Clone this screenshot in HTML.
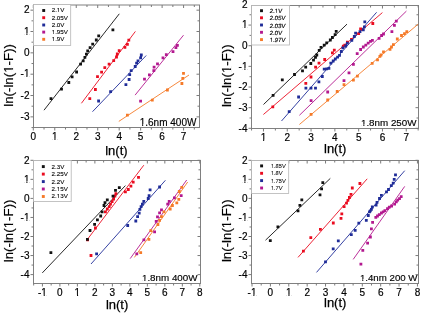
<!DOCTYPE html><html><head><meta charset="utf-8"><style>html,body{margin:0;padding:0;background:#fff;width:421px;height:314px;overflow:hidden}svg{display:block}.w{will-change:transform}</style></head><body>
<div class="w"><svg width="421" height="314" viewBox="0 0 421 314" font-family='"Liberation Sans", sans-serif'>
<rect width="421" height="314" fill="#fff"/>
<defs><clipPath id="ct0" clipPathUnits="userSpaceOnUse"><path clip-rule="evenodd" d="M-2000 -2000H3000V3000H-2000ZM52.28 138.85H54.41V140.90H52.28ZM55.48 138.85H57.51V140.90H55.48Z"/></clipPath><clipPath id="ct1" clipPathUnits="userSpaceOnUse"><path clip-rule="evenodd" d="M-2000 -2000H3000V3000H-2000ZM24.21 75.94H26.34V77.99H24.21ZM27.42 75.94H29.44V77.99H27.42Z"/></clipPath><clipPath id="ct2" clipPathUnits="userSpaceOnUse"><path clip-rule="evenodd" d="M-2000 -2000H3000V3000H-2000ZM24.23 33.26H26.35V35.31H24.23ZM27.43 33.26H29.46V35.31H27.43Z"/></clipPath><clipPath id="ct3" clipPathUnits="userSpaceOnUse"><path clip-rule="evenodd" d="M-2000 -2000H3000V3000H-2000ZM57.04 10.95H58.35V13.00H57.04ZM59.02 10.95H60.28V13.00H59.02Z"/></clipPath><clipPath id="ct4" clipPathUnits="userSpaceOnUse"><path clip-rule="evenodd" d="M-2000 -2000H3000V3000H-2000ZM51.88 32.55H53.20V34.60H51.88ZM53.87 32.55H55.12V34.60H53.87Z"/></clipPath><clipPath id="ct5" clipPathUnits="userSpaceOnUse"><path clip-rule="evenodd" d="M-2000 -2000H3000V3000H-2000ZM51.88 39.75H53.20V41.80H51.88ZM53.87 39.75H55.12V41.80H53.87Z"/></clipPath><clipPath id="ct6" clipPathUnits="userSpaceOnUse"><path clip-rule="evenodd" d="M-2000 -2000H3000V3000H-2000ZM11.36 78.65H14.18V80.70H11.36ZM15.62 78.65H18.31V80.70H15.62Z"/></clipPath><clipPath id="ct7" clipPathUnits="userSpaceOnUse"><path clip-rule="evenodd" d="M-2000 -2000H3000V3000H-2000ZM139.99 124.35H142.11V126.40H139.99ZM143.19 124.35H145.21V126.40H143.19Z"/></clipPath><clipPath id="ct8" clipPathUnits="userSpaceOnUse"><path clip-rule="evenodd" d="M-2000 -2000H3000V3000H-2000ZM260.97 139.85H263.10V141.90H260.97ZM264.17 139.85H266.20V141.90H264.17Z"/></clipPath><clipPath id="ct9" clipPathUnits="userSpaceOnUse"><path clip-rule="evenodd" d="M-2000 -2000H3000V3000H-2000ZM242.21 68.12H244.34V70.17H242.21ZM245.42 68.12H247.44V70.17H245.42Z"/></clipPath><clipPath id="ct10" clipPathUnits="userSpaceOnUse"><path clip-rule="evenodd" d="M-2000 -2000H3000V3000H-2000ZM242.23 26.82H244.35V28.87H242.23ZM245.43 26.82H247.46V28.87H245.43Z"/></clipPath><clipPath id="ct11" clipPathUnits="userSpaceOnUse"><path clip-rule="evenodd" d="M-2000 -2000H3000V3000H-2000ZM5.16 -1.45H6.44V0.60H5.16ZM7.08 -1.45H8.30V0.60H7.08Z"/></clipPath><clipPath id="ct12" clipPathUnits="userSpaceOnUse"><path clip-rule="evenodd" d="M-2000 -2000H3000V3000H-2000ZM0.18 -1.45H1.45V0.60H0.18ZM2.10 -1.45H3.31V0.60H2.10Z"/></clipPath><clipPath id="ct13" clipPathUnits="userSpaceOnUse"><path clip-rule="evenodd" d="M-2000 -2000H3000V3000H-2000ZM228.96 78.95H231.78V81.00H228.96ZM233.22 78.95H235.91V81.00H233.22Z"/></clipPath><clipPath id="ct14" clipPathUnits="userSpaceOnUse"><path clip-rule="evenodd" d="M-2000 -2000H3000V3000H-2000ZM361.24 124.15H363.32V126.20H361.24ZM364.38 124.15H366.36V126.20H364.38Z"/></clipPath><clipPath id="ct15" clipPathUnits="userSpaceOnUse"><path clip-rule="evenodd" d="M-2000 -2000H3000V3000H-2000ZM41.58 294.85H43.70V296.90H41.58ZM44.78 294.85H46.80V296.90H44.78Z"/></clipPath><clipPath id="ct16" clipPathUnits="userSpaceOnUse"><path clip-rule="evenodd" d="M-2000 -2000H3000V3000H-2000ZM74.90 294.85H77.03V296.90H74.90ZM78.10 294.85H80.13V296.90H78.10Z"/></clipPath><clipPath id="ct17" clipPathUnits="userSpaceOnUse"><path clip-rule="evenodd" d="M-2000 -2000H3000V3000H-2000ZM24.21 219.20H26.34V221.25H24.21ZM27.42 219.20H29.44V221.25H27.42Z"/></clipPath><clipPath id="ct18" clipPathUnits="userSpaceOnUse"><path clip-rule="evenodd" d="M-2000 -2000H3000V3000H-2000ZM24.23 181.10H26.35V183.15H24.23ZM27.43 181.10H29.46V183.15H27.43Z"/></clipPath><clipPath id="ct19" clipPathUnits="userSpaceOnUse"><path clip-rule="evenodd" d="M-2000 -2000H3000V3000H-2000ZM56.94 189.45H58.25V191.50H56.94ZM58.92 189.45H60.18V191.50H58.92Z"/></clipPath><clipPath id="ct20" clipPathUnits="userSpaceOnUse"><path clip-rule="evenodd" d="M-2000 -2000H3000V3000H-2000ZM56.94 196.95H58.25V199.00H56.94ZM58.92 196.95H60.18V199.00H58.92Z"/></clipPath><clipPath id="ct21" clipPathUnits="userSpaceOnUse"><path clip-rule="evenodd" d="M-2000 -2000H3000V3000H-2000ZM11.16 234.15H13.98V236.20H11.16ZM15.42 234.15H18.11V236.20H15.42Z"/></clipPath><clipPath id="ct22" clipPathUnits="userSpaceOnUse"><path clip-rule="evenodd" d="M-2000 -2000H3000V3000H-2000ZM142.24 279.75H144.32V281.80H142.24ZM145.38 279.75H147.36V281.80H145.38Z"/></clipPath><clipPath id="ct23" clipPathUnits="userSpaceOnUse"><path clip-rule="evenodd" d="M-2000 -2000H3000V3000H-2000ZM251.19 294.85H253.31V296.90H251.19ZM254.39 294.85H256.41V296.90H254.39Z"/></clipPath><clipPath id="ct24" clipPathUnits="userSpaceOnUse"><path clip-rule="evenodd" d="M-2000 -2000H3000V3000H-2000ZM286.29 294.85H288.42V296.90H286.29ZM289.49 294.85H291.52V296.90H289.49Z"/></clipPath><clipPath id="ct25" clipPathUnits="userSpaceOnUse"><path clip-rule="evenodd" d="M-2000 -2000H3000V3000H-2000ZM242.21 219.20H244.34V221.25H242.21ZM245.42 219.20H247.44V221.25H245.42Z"/></clipPath><clipPath id="ct26" clipPathUnits="userSpaceOnUse"><path clip-rule="evenodd" d="M-2000 -2000H3000V3000H-2000ZM242.23 181.10H244.35V183.15H242.23ZM245.43 181.10H247.46V183.15H245.43Z"/></clipPath><clipPath id="ct27" clipPathUnits="userSpaceOnUse"><path clip-rule="evenodd" d="M-2000 -2000H3000V3000H-2000ZM0.17 -1.45H1.40V0.60H0.17ZM2.03 -1.45H3.20V0.60H2.03Z"/></clipPath><clipPath id="ct28" clipPathUnits="userSpaceOnUse"><path clip-rule="evenodd" d="M-2000 -2000H3000V3000H-2000ZM0.17 -1.45H1.40V0.60H0.17ZM2.03 -1.45H3.20V0.60H2.03Z"/></clipPath><clipPath id="ct29" clipPathUnits="userSpaceOnUse"><path clip-rule="evenodd" d="M-2000 -2000H3000V3000H-2000ZM0.17 -1.45H1.40V0.60H0.17ZM2.03 -1.45H3.20V0.60H2.03Z"/></clipPath><clipPath id="ct30" clipPathUnits="userSpaceOnUse"><path clip-rule="evenodd" d="M-2000 -2000H3000V3000H-2000ZM0.17 -1.45H1.40V0.60H0.17ZM2.03 -1.45H3.20V0.60H2.03Z"/></clipPath><clipPath id="ct31" clipPathUnits="userSpaceOnUse"><path clip-rule="evenodd" d="M-2000 -2000H3000V3000H-2000ZM229.76 233.95H232.58V236.00H229.76ZM234.02 233.95H236.71V236.00H234.02Z"/></clipPath><clipPath id="ct32" clipPathUnits="userSpaceOnUse"><path clip-rule="evenodd" d="M-2000 -2000H3000V3000H-2000ZM360.16 279.05H362.22V281.10H360.16ZM363.27 279.05H365.23V281.10H363.27Z"/></clipPath></defs>
<g><rect x="33.5" y="5" width="166" height="122.5" fill="none" stroke="#808080" stroke-width="1"/><path d="M33.3 127.5v3M33.3 5v3M44.03 127.5v2M44.03 5v2M54.77 127.5v3M54.77 5v3M65.5 127.5v2M65.5 5v2M76.24 127.5v3M76.24 5v3M86.97 127.5v2M86.97 5v2M97.71 127.5v3M97.71 5v3M108.44 127.5v2M108.44 5v2M119.18 127.5v3M119.18 5v3M129.91 127.5v2M129.91 5v2M140.65 127.5v3M140.65 5v3M151.38 127.5v2M151.38 5v2M162.12 127.5v3M162.12 5v3M172.86 127.5v2M172.86 5v2M183.59 127.5v3M183.59 5v3M194.32 127.5v2M194.32 5v2M33.5 127.54h-2M199.5 127.54h-2M33.5 116.87h-3M199.5 116.87h-3M33.5 106.2h-2M199.5 106.2h-2M33.5 95.53h-3M199.5 95.53h-3M33.5 84.86h-2M199.5 84.86h-2M33.5 74.19h-3M199.5 74.19h-3M33.5 63.52h-2M199.5 63.52h-2M33.5 52.85h-3M199.5 52.85h-3M33.5 42.18h-2M199.5 42.18h-2M33.5 31.51h-3M199.5 31.51h-3M33.5 20.84h-2M199.5 20.84h-2M33.5 10.17h-3M199.5 10.17h-3" stroke="#7a7a7a" stroke-width="1" fill="none"/><text x="33.3" y="140.3" font-size="10" text-anchor="middle" fill="#000" stroke="#000" stroke-width="0.18">0</text><text id="t0" x="54.77" y="140.3" font-size="10" text-anchor="middle" fill="#000" stroke="#000" stroke-width="0.18" clip-path="url(#ct0)">1</text><text x="76.24" y="140.3" font-size="10" text-anchor="middle" fill="#000" stroke="#000" stroke-width="0.18">2</text><text x="97.71" y="140.3" font-size="10" text-anchor="middle" fill="#000" stroke="#000" stroke-width="0.18">3</text><text x="119.18" y="140.3" font-size="10" text-anchor="middle" fill="#000" stroke="#000" stroke-width="0.18">4</text><text x="140.65" y="140.3" font-size="10" text-anchor="middle" fill="#000" stroke="#000" stroke-width="0.18">5</text><text x="162.12" y="140.3" font-size="10" text-anchor="middle" fill="#000" stroke="#000" stroke-width="0.18">6</text><text x="183.59" y="140.3" font-size="10" text-anchor="middle" fill="#000" stroke="#000" stroke-width="0.18">7</text><text x="29.5" y="120.07" font-size="10" text-anchor="end" fill="#000" stroke="#000" stroke-width="0.18">-3</text><text x="29.5" y="98.73" font-size="10" text-anchor="end" fill="#000" stroke="#000" stroke-width="0.18">-2</text><text id="t1" x="29.5" y="77.39" font-size="10" text-anchor="end" fill="#000" stroke="#000" stroke-width="0.18" clip-path="url(#ct1)">-1</text><text x="29.5" y="56.05" font-size="10" text-anchor="end" fill="#000" stroke="#000" stroke-width="0.18">0</text><text id="t2" x="29.5" y="34.71" font-size="10" text-anchor="end" fill="#000" stroke="#000" stroke-width="0.18" clip-path="url(#ct2)">1</text><text x="29.5" y="13.37" font-size="10" text-anchor="end" fill="#000" stroke="#000" stroke-width="0.18">2</text><line x1="44" y1="110.2" x2="119.3" y2="13.8" stroke="#111111" stroke-width="0.9"/><line x1="81.4" y1="103.3" x2="135.4" y2="31.4" stroke="#ea0c20" stroke-width="0.9"/><line x1="92.5" y1="111.7" x2="146.2" y2="55.5" stroke="#1f2c98" stroke-width="0.9"/><line x1="135.1" y1="95.1" x2="183.5" y2="35.2" stroke="#b3188f" stroke-width="0.9"/><line x1="118.8" y1="121.4" x2="189" y2="75" stroke="#f57a28" stroke-width="0.9"/><path d="M49.6 97.3h2.8v2.8h-2.8zM60.1 87.8h2.8v2.8h-2.8zM67.4 81.1h2.8v2.8h-2.8zM70.7 75.4h2.8v2.8h-2.8zM75.2 70.6h2.8v2.8h-2.8zM79.2 62.8h2.8v2.8h-2.8zM81.8 59.4h2.8v2.8h-2.8zM83.5 55.9h2.8v2.8h-2.8zM85 52.7h2.8v2.8h-2.8zM86.3 49.4h2.8v2.8h-2.8zM88.7 46.3h2.8v2.8h-2.8zM91.3 42.7h2.8v2.8h-2.8zM94.9 38.6h2.8v2.8h-2.8zM97.3 34.4h2.8v2.8h-2.8zM111.5 28.4h2.8v2.8h-2.8z" fill="#111111"/><path d="M88.4 97.3h2.8v2.8h-2.8zM94 88.1h2.8v2.8h-2.8zM96.1 75.3h2.8v2.8h-2.8zM100.2 70.7h2.8v2.8h-2.8zM103.4 66.2h2.8v2.8h-2.8zM107.7 62.8h2.8v2.8h-2.8zM112.3 59.3h2.8v2.8h-2.8zM115.1 55.6h2.8v2.8h-2.8zM115.9 52.6h2.8v2.8h-2.8zM117.8 49.3h2.8v2.8h-2.8zM123.5 45.9h2.8v2.8h-2.8zM126 43h2.8v2.8h-2.8zM127.4 38.8h2.8v2.8h-2.8z" fill="#ea0c20"/><path d="M97.2 99.6h2.8v2.8h-2.8zM109.2 90.3h2.8v2.8h-2.8zM124.5 83.2h2.8v2.8h-2.8zM127.7 78.1h2.8v2.8h-2.8zM128.3 73.3h2.8v2.8h-2.8zM129.8 69.3h2.8v2.8h-2.8zM133.8 65.1h2.8v2.8h-2.8zM135.2 61.8h2.8v2.8h-2.8zM136.6 59.4h2.8v2.8h-2.8zM139.2 56.4h2.8v2.8h-2.8zM139.9 53.6h2.8v2.8h-2.8z" fill="#1f2c98"/><path d="M139.2 99.7h2.8v2.8h-2.8zM143.1 77.7h2.8v2.8h-2.8zM148 73.5h2.8v2.8h-2.8zM152.4 69.2h2.8v2.8h-2.8zM152.7 65.7h2.8v2.8h-2.8zM156.1 62.5h2.8v2.8h-2.8zM161.6 56.4h2.8v2.8h-2.8zM164.9 53.2h2.8v2.8h-2.8zM171.6 50.3h2.8v2.8h-2.8zM174.5 46.3h2.8v2.8h-2.8zM176 44h2.8v2.8h-2.8z" fill="#b3188f"/><path d="M126 113.7h2.8v2.8h-2.8zM150.9 98.8h2.8v2.8h-2.8zM166 88.6h2.8v2.8h-2.8zM180.5 82.1h2.8v2.8h-2.8zM181.4 77h2.8v2.8h-2.8zM182.1 71.9h2.8v2.8h-2.8z" fill="#f57a28"/><rect x="33.5" y="4.5" width="37.2" height="41" fill="#fff" stroke="#b5b5b5" stroke-width="0.8"/><rect x="42.25" y="9.05" width="2.9" height="2.9" fill="#111111"/><text id="t3" x="51.7" y="12.4" font-size="6.2" fill="#000" stroke="#000" stroke-width="0.1" clip-path="url(#ct3)">2.1V</text><rect x="42.25" y="16.25" width="2.9" height="2.9" fill="#ea0c20"/><text x="51.7" y="19.6" font-size="6.2" fill="#000" stroke="#000" stroke-width="0.1">2.05V</text><rect x="42.25" y="23.55" width="2.9" height="2.9" fill="#1f2c98"/><text x="51.7" y="26.9" font-size="6.2" fill="#000" stroke="#000" stroke-width="0.1">2.0V</text><rect x="42.25" y="30.65" width="2.9" height="2.9" fill="#b3188f"/><text id="t4" x="51.7" y="34" font-size="6.2" fill="#000" stroke="#000" stroke-width="0.1" clip-path="url(#ct4)">1.95V</text><rect x="42.25" y="37.85" width="2.9" height="2.9" fill="#f57a28"/><text id="t5" x="51.7" y="41.2" font-size="6.2" fill="#000" stroke="#000" stroke-width="0.1" clip-path="url(#ct5)">1.9V</text><text id="t6" x="8.4" y="80.1" font-size="13.3" text-anchor="middle" fill="#000" stroke="#000" stroke-width="0.15" transform="rotate(-90 8.4 75.4)" clip-path="url(#ct6)">ln(-ln(1-F))</text><text x="116.4" y="154.7" font-size="13" text-anchor="middle" fill="#000" stroke="#000" stroke-width="0.25">ln(t)</text><text id="t7" x="196.4" y="125.8" font-size="10" text-anchor="end" fill="#000" stroke="#000" stroke-width="0.15" clip-path="url(#ct7)">1.6nm 400W</text></g>
<g><rect x="251.5" y="5.5" width="167" height="123" fill="none" stroke="#808080" stroke-width="1"/><path d="M251.56 128.5v2M251.56 5.5v2M263.46 128.5v3M263.46 5.5v3M275.36 128.5v2M275.36 5.5v2M287.26 128.5v3M287.26 5.5v3M299.16 128.5v2M299.16 5.5v2M311.06 128.5v3M311.06 5.5v3M322.96 128.5v2M322.96 5.5v2M334.86 128.5v3M334.86 5.5v3M346.76 128.5v2M346.76 5.5v2M358.66 128.5v3M358.66 5.5v3M370.56 128.5v2M370.56 5.5v2M382.46 128.5v3M382.46 5.5v3M394.36 128.5v2M394.36 5.5v2M406.26 128.5v3M406.26 5.5v3M418.16 128.5v2M418.16 5.5v2M251.5 128.32h-3M418.5 128.32h-3M251.5 117.99h-2M418.5 117.99h-2M251.5 107.67h-3M418.5 107.67h-3M251.5 97.34h-2M418.5 97.34h-2M251.5 87.02h-3M418.5 87.02h-3M251.5 76.69h-2M418.5 76.69h-2M251.5 66.37h-3M418.5 66.37h-3M251.5 56.05h-2M418.5 56.05h-2M251.5 45.72h-3M418.5 45.72h-3M251.5 35.39h-2M418.5 35.39h-2M251.5 25.07h-3M418.5 25.07h-3M251.5 14.75h-2M418.5 14.75h-2" stroke="#7a7a7a" stroke-width="1" fill="none"/><text id="t8" x="263.46" y="141.3" font-size="10" text-anchor="middle" fill="#000" stroke="#000" stroke-width="0.18" clip-path="url(#ct8)">1</text><text x="287.26" y="141.3" font-size="10" text-anchor="middle" fill="#000" stroke="#000" stroke-width="0.18">2</text><text x="311.06" y="141.3" font-size="10" text-anchor="middle" fill="#000" stroke="#000" stroke-width="0.18">3</text><text x="334.86" y="141.3" font-size="10" text-anchor="middle" fill="#000" stroke="#000" stroke-width="0.18">4</text><text x="358.66" y="141.3" font-size="10" text-anchor="middle" fill="#000" stroke="#000" stroke-width="0.18">5</text><text x="382.46" y="141.3" font-size="10" text-anchor="middle" fill="#000" stroke="#000" stroke-width="0.18">6</text><text x="406.26" y="141.3" font-size="10" text-anchor="middle" fill="#000" stroke="#000" stroke-width="0.18">7</text><text x="247.5" y="131.52" font-size="10" text-anchor="end" fill="#000" stroke="#000" stroke-width="0.18">-4</text><text x="247.5" y="110.87" font-size="10" text-anchor="end" fill="#000" stroke="#000" stroke-width="0.18">-3</text><text x="247.5" y="90.22" font-size="10" text-anchor="end" fill="#000" stroke="#000" stroke-width="0.18">-2</text><text id="t9" x="247.5" y="69.57" font-size="10" text-anchor="end" fill="#000" stroke="#000" stroke-width="0.18" clip-path="url(#ct9)">-1</text><text x="247.5" y="48.92" font-size="10" text-anchor="end" fill="#000" stroke="#000" stroke-width="0.18">0</text><text id="t10" x="247.5" y="28.27" font-size="10" text-anchor="end" fill="#000" stroke="#000" stroke-width="0.18" clip-path="url(#ct10)">1</text><text x="247.5" y="7.62" font-size="10" text-anchor="end" fill="#000" stroke="#000" stroke-width="0.18">2</text><line x1="263.5" y1="104.5" x2="347" y2="24.1" stroke="#111111" stroke-width="0.9"/><line x1="263.4" y1="114.5" x2="382.4" y2="12.6" stroke="#ea0c20" stroke-width="0.9"/><line x1="281.5" y1="121" x2="376.6" y2="12.3" stroke="#1f2c98" stroke-width="0.9"/><line x1="299.4" y1="115.3" x2="406.4" y2="11.1" stroke="#b3188f" stroke-width="0.9"/><line x1="299.4" y1="124.5" x2="418.2" y2="24.1" stroke="#f57a28" stroke-width="0.9"/><path d="M271.7 94h2.8v2.8h-2.8zM280.9 78.4h2.8v2.8h-2.8zM293.1 73.1h2.8v2.8h-2.8zM301.1 69.4h2.8v2.8h-2.8zM304.3 65.8h2.8v2.8h-2.8zM309.4 62.1h2.8v2.8h-2.8zM312.1 58.8h2.8v2.8h-2.8zM314.1 56h2.8v2.8h-2.8zM315.4 53.6h2.8v2.8h-2.8zM317.8 49h2.8v2.8h-2.8zM319.6 46h2.8v2.8h-2.8zM322.8 43.8h2.8v2.8h-2.8zM325.3 41.5h2.8v2.8h-2.8zM328.9 38.6h2.8v2.8h-2.8zM331 36.1h2.8v2.8h-2.8zM333.7 33.2h2.8v2.8h-2.8zM334.8 30h2.8v2.8h-2.8z" fill="#111111"/><path d="M271.4 105.5h2.8v2.8h-2.8zM304.4 82h2.8v2.8h-2.8zM309.6 75.6h2.8v2.8h-2.8zM314.2 65.8h2.8v2.8h-2.8zM317.6 61.8h2.8v2.8h-2.8zM323.3 58.1h2.8v2.8h-2.8zM331 51.4h2.8v2.8h-2.8zM332.9 48.7h2.8v2.8h-2.8zM341.9 44.7h2.8v2.8h-2.8zM343.4 43.7h2.8v2.8h-2.8zM346 40.8h2.8v2.8h-2.8zM350.1 38h2.8v2.8h-2.8zM357.3 32.2h2.8v2.8h-2.8zM359.2 27.5h2.8v2.8h-2.8zM371.4 22.1h2.8v2.8h-2.8z" fill="#ea0c20"/><path d="M287.8 110.2h2.8v2.8h-2.8zM297.2 95.6h2.8v2.8h-2.8zM304.5 86.7h2.8v2.8h-2.8zM309.6 86.7h2.8v2.8h-2.8zM314.1 86.7h2.8v2.8h-2.8zM317.5 80.4h2.8v2.8h-2.8zM320.9 75.1h2.8v2.8h-2.8zM322.8 67.7h2.8v2.8h-2.8zM325.3 67.4h2.8v2.8h-2.8zM327.5 67h2.8v2.8h-2.8zM329.4 61.8h2.8v2.8h-2.8zM331.8 59.6h2.8v2.8h-2.8zM333.9 57.6h2.8v2.8h-2.8zM336.2 55.8h2.8v2.8h-2.8zM338.1 54h2.8v2.8h-2.8zM339.9 50.1h2.8v2.8h-2.8zM341.4 46.5h2.8v2.8h-2.8zM344.3 44.6h2.8v2.8h-2.8zM345.9 41.8h2.8v2.8h-2.8zM350.4 38.9h2.8v2.8h-2.8zM352.9 35.1h2.8v2.8h-2.8zM354.2 31.8h2.8v2.8h-2.8zM358.6 30.3h2.8v2.8h-2.8zM361.9 28.4h2.8v2.8h-2.8zM363 25.5h2.8v2.8h-2.8zM363.4 20.4h2.8v2.8h-2.8z" fill="#1f2c98"/><path d="M309.7 99.2h2.8v2.8h-2.8zM326.3 90.6h2.8v2.8h-2.8zM342.6 79.2h2.8v2.8h-2.8zM347.6 71.4h2.8v2.8h-2.8zM352 62.9h2.8v2.8h-2.8zM355.8 52.3h2.8v2.8h-2.8zM359.2 48.1h2.8v2.8h-2.8zM361.9 45.6h2.8v2.8h-2.8zM364.4 43.7h2.8v2.8h-2.8zM366.8 41.8h2.8v2.8h-2.8zM369.1 39.9h2.8v2.8h-2.8zM371 38.9h2.8v2.8h-2.8zM377.7 37h2.8v2.8h-2.8zM380.2 34.1h2.8v2.8h-2.8zM382.1 32.6h2.8v2.8h-2.8zM390.5 30.3h2.8v2.8h-2.8zM393 24h2.8v2.8h-2.8zM394.9 19.8h2.8v2.8h-2.8z" fill="#b3188f"/><path d="M309.7 113h2.8v2.8h-2.8zM326.3 98.6h2.8v2.8h-2.8zM335.8 90.1h2.8v2.8h-2.8zM342.6 83.2h2.8v2.8h-2.8zM352 78.8h2.8v2.8h-2.8zM356 74.8h2.8v2.8h-2.8zM370.8 61.9h2.8v2.8h-2.8zM376.1 58.5h2.8v2.8h-2.8zM378.5 54.9h2.8v2.8h-2.8zM379.6 53.6h2.8v2.8h-2.8zM382.1 50.4h2.8v2.8h-2.8zM388.6 47.9h2.8v2.8h-2.8zM390.1 45.6h2.8v2.8h-2.8zM392 43.3h2.8v2.8h-2.8zM395.9 37.6h2.8v2.8h-2.8zM400.1 34.1h2.8v2.8h-2.8zM403.1 32.2h2.8v2.8h-2.8zM405.4 30.3h2.8v2.8h-2.8z" fill="#f57a28"/><rect x="251.5" y="5.5" width="38" height="39.5" fill="#fff" stroke="#b5b5b5" stroke-width="0.8"/><rect x="260.05" y="9.25" width="2.9" height="2.9" fill="#111111"/><text id="t11" transform="translate(269.6 13.2) skewX(-6)" font-size="6" fill="#000" stroke="#000" stroke-width="0.14" clip-path="url(#ct11)">2.1V</text><rect x="260.05" y="16.35" width="2.9" height="2.9" fill="#ea0c20"/><text transform="translate(269.6 20.3) skewX(-6)" font-size="6" fill="#000" stroke="#000" stroke-width="0.14">2.05V</text><rect x="260.05" y="23.55" width="2.9" height="2.9" fill="#1f2c98"/><text transform="translate(269.6 27.5) skewX(-6)" font-size="6" fill="#000" stroke="#000" stroke-width="0.14">2.03V</text><rect x="260.05" y="30.85" width="2.9" height="2.9" fill="#b3188f"/><text transform="translate(269.6 34.8) skewX(-6)" font-size="6" fill="#000" stroke="#000" stroke-width="0.14">2.0V</text><rect x="260.05" y="38.15" width="2.9" height="2.9" fill="#f57a28"/><text id="t12" transform="translate(269.6 42.1) skewX(-6)" font-size="6" fill="#000" stroke="#000" stroke-width="0.14" clip-path="url(#ct12)">1.97V</text><text id="t13" x="226" y="80.4" font-size="13.3" text-anchor="middle" fill="#000" stroke="#000" stroke-width="0.15" transform="rotate(-90 226 75.7)" clip-path="url(#ct13)">ln(-ln(1-F))</text><text x="335.2" y="153" font-size="13" text-anchor="middle" fill="#000" stroke="#000" stroke-width="0.25">ln(t)</text><text id="t14" x="416.5" y="125.6" font-size="9.8" text-anchor="end" fill="#000" stroke="#000" stroke-width="0.15" clip-path="url(#ct14)">1.8nm 250W</text></g>
<g><rect x="33.5" y="160.5" width="167" height="123" fill="none" stroke="#808080" stroke-width="1"/><path d="M33.66 283.5v2M33.66 160.5v2M42.41 283.5v3M42.41 160.5v3M51.16 283.5v2M51.16 160.5v2M59.9 283.5v3M59.9 160.5v3M68.64 283.5v2M68.64 160.5v2M77.39 283.5v3M77.39 160.5v3M86.13 283.5v2M86.13 160.5v2M94.88 283.5v3M94.88 160.5v3M103.62 283.5v2M103.62 160.5v2M112.37 283.5v3M112.37 160.5v3M121.11 283.5v2M121.11 160.5v2M129.86 283.5v3M129.86 160.5v3M138.6 283.5v2M138.6 160.5v2M147.35 283.5v3M147.35 160.5v3M156.09 283.5v2M156.09 160.5v2M164.84 283.5v3M164.84 160.5v3M173.58 283.5v2M173.58 160.5v2M182.33 283.5v3M182.33 160.5v3M191.07 283.5v2M191.07 160.5v2M199.82 283.5v3M199.82 160.5v3M33.5 274.6h-3M200.5 274.6h-3M33.5 265.07h-2M200.5 265.07h-2M33.5 255.55h-3M200.5 255.55h-3M33.5 246.03h-2M200.5 246.03h-2M33.5 236.5h-3M200.5 236.5h-3M33.5 226.98h-2M200.5 226.98h-2M33.5 217.45h-3M200.5 217.45h-3M33.5 207.93h-2M200.5 207.93h-2M33.5 198.4h-3M200.5 198.4h-3M33.5 188.88h-2M200.5 188.88h-2M33.5 179.35h-3M200.5 179.35h-3M33.5 169.82h-2M200.5 169.82h-2M33.5 160.3h-3M200.5 160.3h-3" stroke="#7a7a7a" stroke-width="1" fill="none"/><text id="t15" x="42.41" y="296.3" font-size="10" text-anchor="middle" fill="#000" stroke="#000" stroke-width="0.18" clip-path="url(#ct15)">-1</text><text x="59.9" y="296.3" font-size="10" text-anchor="middle" fill="#000" stroke="#000" stroke-width="0.18">0</text><text id="t16" x="77.39" y="296.3" font-size="10" text-anchor="middle" fill="#000" stroke="#000" stroke-width="0.18" clip-path="url(#ct16)">1</text><text x="94.88" y="296.3" font-size="10" text-anchor="middle" fill="#000" stroke="#000" stroke-width="0.18">2</text><text x="112.37" y="296.3" font-size="10" text-anchor="middle" fill="#000" stroke="#000" stroke-width="0.18">3</text><text x="129.86" y="296.3" font-size="10" text-anchor="middle" fill="#000" stroke="#000" stroke-width="0.18">4</text><text x="147.35" y="296.3" font-size="10" text-anchor="middle" fill="#000" stroke="#000" stroke-width="0.18">5</text><text x="164.84" y="296.3" font-size="10" text-anchor="middle" fill="#000" stroke="#000" stroke-width="0.18">6</text><text x="182.33" y="296.3" font-size="10" text-anchor="middle" fill="#000" stroke="#000" stroke-width="0.18">7</text><text x="199.82" y="296.3" font-size="10" text-anchor="middle" fill="#000" stroke="#000" stroke-width="0.18">8</text><text x="29.5" y="277.8" font-size="10" text-anchor="end" fill="#000" stroke="#000" stroke-width="0.18">-4</text><text x="29.5" y="258.75" font-size="10" text-anchor="end" fill="#000" stroke="#000" stroke-width="0.18">-3</text><text x="29.5" y="239.7" font-size="10" text-anchor="end" fill="#000" stroke="#000" stroke-width="0.18">-2</text><text id="t17" x="29.5" y="220.65" font-size="10" text-anchor="end" fill="#000" stroke="#000" stroke-width="0.18" clip-path="url(#ct17)">-1</text><text x="29.5" y="201.6" font-size="10" text-anchor="end" fill="#000" stroke="#000" stroke-width="0.18">0</text><text id="t18" x="29.5" y="182.55" font-size="10" text-anchor="end" fill="#000" stroke="#000" stroke-width="0.18" clip-path="url(#ct18)">1</text><text x="29.5" y="163.5" font-size="10" text-anchor="end" fill="#000" stroke="#000" stroke-width="0.18">2</text><line x1="42.3" y1="272.9" x2="125.4" y2="185.6" stroke="#111111" stroke-width="0.9"/><line x1="86.3" y1="240.8" x2="143.8" y2="165.2" stroke="#ea0c20" stroke-width="0.9"/><line x1="91" y1="264" x2="165.4" y2="180.3" stroke="#1f2c98" stroke-width="0.9"/><line x1="130.2" y1="258.6" x2="186.7" y2="180" stroke="#b3188f" stroke-width="0.9"/><line x1="134.4" y1="257.4" x2="187.7" y2="182" stroke="#f57a28" stroke-width="0.9"/><path d="M89.6 254.1h2.8v2.8h-2.8zM86.2 238.4h2.8v2.8h-2.8zM94 226.6h2.8v2.8h-2.8zM104 210.4h2.8v2.8h-2.8zM105.9 207.6h2.8v2.8h-2.8zM107.8 205.3h2.8v2.8h-2.8zM109.1 202.8h2.8v2.8h-2.8zM110.7 200.3h2.8v2.8h-2.8zM112.2 197.6h2.8v2.8h-2.8zM113.5 194.6h2.8v2.8h-2.8zM114.5 192.3h2.8v2.8h-2.8zM124 190.4h2.8v2.8h-2.8zM126.9 188.1h2.8v2.8h-2.8zM129.5 184.8h2.8v2.8h-2.8zM131.8 180.8h2.8v2.8h-2.8zM137.1 176h2.8v2.8h-2.8z" fill="#ea0c20"/><path d="M49.5 251.3h2.8v2.8h-2.8zM86 237.9h2.8v2.8h-2.8zM88.6 229.1h2.8v2.8h-2.8zM93.2 223h2.8v2.8h-2.8zM96 218.4h2.8v2.8h-2.8zM99.3 214.6h2.8v2.8h-2.8zM100.7 210.4h2.8v2.8h-2.8zM102.6 204.1h2.8v2.8h-2.8zM103.6 201.3h2.8v2.8h-2.8zM105.9 198.4h2.8v2.8h-2.8zM111.6 194.8h2.8v2.8h-2.8zM114.1 189h2.8v2.8h-2.8zM117.9 186.2h2.8v2.8h-2.8z" fill="#111111"/><path d="M95.2 252.4h2.8v2.8h-2.8zM126.3 224.1h2.8v2.8h-2.8zM134.4 219.6h2.8v2.8h-2.8zM136.2 215.3h2.8v2.8h-2.8zM137.8 211.8h2.8v2.8h-2.8zM138.5 208h2.8v2.8h-2.8zM139.7 205.3h2.8v2.8h-2.8zM141 202.8h2.8v2.8h-2.8zM142.4 199.9h2.8v2.8h-2.8zM146.8 197.1h2.8v2.8h-2.8zM147.7 194.2h2.8v2.8h-2.8zM148.7 188.5h2.8v2.8h-2.8zM158.2 185.6h2.8v2.8h-2.8z" fill="#1f2c98"/><path d="M135.4 252.4h2.8v2.8h-2.8zM142.5 238.5h2.8v2.8h-2.8zM153.2 230.4h2.8v2.8h-2.8zM154.8 219.9h2.8v2.8h-2.8zM156.1 215.4h2.8v2.8h-2.8zM158.2 211.4h2.8v2.8h-2.8zM160.1 208.5h2.8v2.8h-2.8zM166.3 202.8h2.8v2.8h-2.8zM167.8 199.9h2.8v2.8h-2.8zM173 196.5h2.8v2.8h-2.8zM179.8 194.3h2.8v2.8h-2.8z" fill="#b3188f"/><path d="M139.3 251.3h2.8v2.8h-2.8zM147.5 237.9h2.8v2.8h-2.8zM149.4 229.3h2.8v2.8h-2.8zM156.5 223.1h2.8v2.8h-2.8zM158.2 219h2.8v2.8h-2.8zM160.1 215.2h2.8v2.8h-2.8zM162.6 210.4h2.8v2.8h-2.8zM168.8 207.6h2.8v2.8h-2.8zM171 204.1h2.8v2.8h-2.8zM175.4 201.5h2.8v2.8h-2.8zM177.4 198h2.8v2.8h-2.8zM177.9 190.1h2.8v2.8h-2.8zM180.4 186h2.8v2.8h-2.8z" fill="#f57a28"/><rect x="33.5" y="160.5" width="37.7" height="41" fill="#fff" stroke="#b5b5b5" stroke-width="0.8"/><rect x="41.85" y="165.15" width="2.9" height="2.9" fill="#111111"/><text x="51.6" y="168.5" font-size="6.2" fill="#000" stroke="#000" stroke-width="0.1">2.3V</text><rect x="41.85" y="172.65" width="2.9" height="2.9" fill="#ea0c20"/><text x="51.6" y="176" font-size="6.2" fill="#000" stroke="#000" stroke-width="0.1">2.25V</text><rect x="41.85" y="180.15" width="2.9" height="2.9" fill="#1f2c98"/><text x="51.6" y="183.5" font-size="6.2" fill="#000" stroke="#000" stroke-width="0.1">2.2V</text><rect x="41.85" y="187.55" width="2.9" height="2.9" fill="#b3188f"/><text id="t19" x="51.6" y="190.9" font-size="6.2" fill="#000" stroke="#000" stroke-width="0.1" clip-path="url(#ct19)">2.15V</text><rect x="41.85" y="195.05" width="2.9" height="2.9" fill="#f57a28"/><text id="t20" x="51.6" y="198.4" font-size="6.2" fill="#000" stroke="#000" stroke-width="0.1" clip-path="url(#ct20)">2.13V</text><text id="t21" x="8.2" y="235.6" font-size="13.3" text-anchor="middle" fill="#000" stroke="#000" stroke-width="0.15" transform="rotate(-90 8.2 230.9)" clip-path="url(#ct21)">ln(-ln(1-F))</text><text x="117.1" y="308.8" font-size="13" text-anchor="middle" fill="#000" stroke="#000" stroke-width="0.25">ln(t)</text><text id="t22" x="197.5" y="281.2" font-size="9.8" text-anchor="end" fill="#000" stroke="#000" stroke-width="0.15" clip-path="url(#ct22)">1.8nm 400W</text></g>
<g><rect x="251.5" y="160.5" width="167" height="123" fill="none" stroke="#808080" stroke-width="1"/><path d="M252.02 283.5v3M252.02 160.5v3M261.21 283.5v2M261.21 160.5v2M270.4 283.5v3M270.4 160.5v3M279.59 283.5v2M279.59 160.5v2M288.78 283.5v3M288.78 160.5v3M297.97 283.5v2M297.97 160.5v2M307.16 283.5v3M307.16 160.5v3M316.35 283.5v2M316.35 160.5v2M325.54 283.5v3M325.54 160.5v3M334.73 283.5v2M334.73 160.5v2M343.92 283.5v3M343.92 160.5v3M353.11 283.5v2M353.11 160.5v2M362.3 283.5v3M362.3 160.5v3M371.49 283.5v2M371.49 160.5v2M380.68 283.5v3M380.68 160.5v3M389.87 283.5v2M389.87 160.5v2M399.06 283.5v3M399.06 160.5v3M408.25 283.5v2M408.25 160.5v2M417.44 283.5v3M417.44 160.5v3M251.5 274.6h-3M418.5 274.6h-3M251.5 265.07h-2M418.5 265.07h-2M251.5 255.55h-3M418.5 255.55h-3M251.5 246.03h-2M418.5 246.03h-2M251.5 236.5h-3M418.5 236.5h-3M251.5 226.98h-2M418.5 226.98h-2M251.5 217.45h-3M418.5 217.45h-3M251.5 207.93h-2M418.5 207.93h-2M251.5 198.4h-3M418.5 198.4h-3M251.5 188.88h-2M418.5 188.88h-2M251.5 179.35h-3M418.5 179.35h-3M251.5 169.82h-2M418.5 169.82h-2M251.5 160.3h-3M418.5 160.3h-3" stroke="#7a7a7a" stroke-width="1" fill="none"/><text id="t23" x="252.02" y="296.3" font-size="10" text-anchor="middle" fill="#000" stroke="#000" stroke-width="0.18" clip-path="url(#ct23)">-1</text><text x="270.4" y="296.3" font-size="10" text-anchor="middle" fill="#000" stroke="#000" stroke-width="0.18">0</text><text id="t24" x="288.78" y="296.3" font-size="10" text-anchor="middle" fill="#000" stroke="#000" stroke-width="0.18" clip-path="url(#ct24)">1</text><text x="307.16" y="296.3" font-size="10" text-anchor="middle" fill="#000" stroke="#000" stroke-width="0.18">2</text><text x="325.54" y="296.3" font-size="10" text-anchor="middle" fill="#000" stroke="#000" stroke-width="0.18">3</text><text x="343.92" y="296.3" font-size="10" text-anchor="middle" fill="#000" stroke="#000" stroke-width="0.18">4</text><text x="362.3" y="296.3" font-size="10" text-anchor="middle" fill="#000" stroke="#000" stroke-width="0.18">5</text><text x="380.68" y="296.3" font-size="10" text-anchor="middle" fill="#000" stroke="#000" stroke-width="0.18">6</text><text x="399.06" y="296.3" font-size="10" text-anchor="middle" fill="#000" stroke="#000" stroke-width="0.18">7</text><text x="417.44" y="296.3" font-size="10" text-anchor="middle" fill="#000" stroke="#000" stroke-width="0.18">8</text><text x="247.5" y="277.8" font-size="10" text-anchor="end" fill="#000" stroke="#000" stroke-width="0.18">-4</text><text x="247.5" y="258.75" font-size="10" text-anchor="end" fill="#000" stroke="#000" stroke-width="0.18">-3</text><text x="247.5" y="239.7" font-size="10" text-anchor="end" fill="#000" stroke="#000" stroke-width="0.18">-2</text><text id="t25" x="247.5" y="220.65" font-size="10" text-anchor="end" fill="#000" stroke="#000" stroke-width="0.18" clip-path="url(#ct25)">-1</text><text x="247.5" y="201.6" font-size="10" text-anchor="end" fill="#000" stroke="#000" stroke-width="0.18">0</text><text id="t26" x="247.5" y="182.55" font-size="10" text-anchor="end" fill="#000" stroke="#000" stroke-width="0.18" clip-path="url(#ct26)">1</text><text x="247.5" y="163.5" font-size="10" text-anchor="end" fill="#000" stroke="#000" stroke-width="0.18">2</text><line x1="265.5" y1="240.2" x2="330.3" y2="178.4" stroke="#111111" stroke-width="0.9"/><line x1="298" y1="257.4" x2="367.2" y2="178.8" stroke="#ea0c20" stroke-width="0.9"/><line x1="316.5" y1="272.4" x2="404.7" y2="170.7" stroke="#1f2c98" stroke-width="0.9"/><line x1="353.2" y1="259.4" x2="404.7" y2="186.4" stroke="#b3188f" stroke-width="0.9"/><path d="M268.9 239.3h2.8v2.8h-2.8zM276.5 225.4h2.8v2.8h-2.8zM296.6 209.5h2.8v2.8h-2.8zM298.5 203.9h2.8v2.8h-2.8zM300.4 198.4h2.8v2.8h-2.8zM318.6 193.4h2.8v2.8h-2.8zM320.2 187.5h2.8v2.8h-2.8zM321.4 181.2h2.8v2.8h-2.8z" fill="#111111"/><path d="M302 249.8h2.8v2.8h-2.8zM309.4 236.3h2.8v2.8h-2.8zM319 227.9h2.8v2.8h-2.8zM331.9 221.6h2.8v2.8h-2.8zM339.6 216.9h2.8v2.8h-2.8zM340.4 212.4h2.8v2.8h-2.8zM342.7 205.3h2.8v2.8h-2.8zM345.1 201.8h2.8v2.8h-2.8zM346.5 199h2.8v2.8h-2.8zM348 196.1h2.8v2.8h-2.8zM349.6 192.9h2.8v2.8h-2.8zM350.9 186.6h2.8v2.8h-2.8zM358.5 182.1h2.8v2.8h-2.8z" fill="#ea0c20"/><path d="M324.1 260.4h2.8v2.8h-2.8zM331.8 247.4h2.8v2.8h-2.8zM336.9 239.4h2.8v2.8h-2.8zM349.9 233.3h2.8v2.8h-2.8zM353.8 228.9h2.8v2.8h-2.8zM357.4 221.7h2.8v2.8h-2.8zM364.9 219h2.8v2.8h-2.8zM366.9 214.1h2.8v2.8h-2.8zM368.1 210.4h2.8v2.8h-2.8zM368.9 209.5h2.8v2.8h-2.8zM370 208h2.8v2.8h-2.8zM370.9 205.6h2.8v2.8h-2.8zM374.7 203.8h2.8v2.8h-2.8zM375.6 200.9h2.8v2.8h-2.8zM378.1 197.1h2.8v2.8h-2.8zM380 193.9h2.8v2.8h-2.8zM385.1 190.4h2.8v2.8h-2.8zM387.1 188.1h2.8v2.8h-2.8zM389.9 184.2h2.8v2.8h-2.8zM391.8 181.8h2.8v2.8h-2.8zM392.8 177.9h2.8v2.8h-2.8zM394.1 173.5h2.8v2.8h-2.8z" fill="#1f2c98"/><path d="M359.5 262.7h2.8v2.8h-2.8zM361.4 249h2.8v2.8h-2.8zM366.2 241.7h2.8v2.8h-2.8zM369 235.6h2.8v2.8h-2.8zM370 227.4h2.8v2.8h-2.8zM371.2 220.9h2.8v2.8h-2.8zM374.4 216h2.8v2.8h-2.8zM376.1 214.6h2.8v2.8h-2.8zM377.9 213.3h2.8v2.8h-2.8zM380 211.6h2.8v2.8h-2.8zM381.8 210.4h2.8v2.8h-2.8zM383.5 209.3h2.8v2.8h-2.8zM386.1 207.2h2.8v2.8h-2.8zM387.9 205.8h2.8v2.8h-2.8zM390.2 204.6h2.8v2.8h-2.8zM393.2 202.8h2.8v2.8h-2.8zM394.9 200.5h2.8v2.8h-2.8zM396.3 198.8h2.8v2.8h-2.8zM398.1 197.2h2.8v2.8h-2.8zM399.8 195.3h2.8v2.8h-2.8z" fill="#b3188f"/><rect x="251.5" y="160.5" width="37.2" height="32.9" fill="#fff" stroke="#b5b5b5" stroke-width="0.8"/><rect x="260.15" y="164.45" width="2.9" height="2.9" fill="#111111"/><text id="t27" transform="translate(270.5 167.9) skewX(-6)" font-size="5.8" fill="#000" stroke="#000" stroke-width="0.05" clip-path="url(#ct27)">1.85V</text><rect x="260.15" y="171.85" width="2.9" height="2.9" fill="#ea0c20"/><text id="t28" transform="translate(270.5 175.3) skewX(-6)" font-size="5.8" fill="#000" stroke="#000" stroke-width="0.05" clip-path="url(#ct28)">1.8V</text><rect x="260.15" y="179.15" width="2.9" height="2.9" fill="#1f2c98"/><text id="t29" transform="translate(270.5 182.6) skewX(-6)" font-size="5.8" fill="#000" stroke="#000" stroke-width="0.05" clip-path="url(#ct29)">1.75V</text><rect x="260.15" y="186.55" width="2.9" height="2.9" fill="#b3188f"/><text id="t30" transform="translate(270.5 190) skewX(-6)" font-size="5.8" fill="#000" stroke="#000" stroke-width="0.05" clip-path="url(#ct30)">1.7V</text><text id="t31" x="226.8" y="235.4" font-size="13.3" text-anchor="middle" fill="#000" stroke="#000" stroke-width="0.15" transform="rotate(-90 226.8 230.7)" clip-path="url(#ct31)">ln(-ln(1-F))</text><text x="335.2" y="306.8" font-size="13" text-anchor="middle" fill="#000" stroke="#000" stroke-width="0.25">ln(t)</text><text id="t32" x="417.5" y="280.5" font-size="9.7" text-anchor="end" fill="#000" stroke="#000" stroke-width="0.15" clip-path="url(#ct32)">1.4nm 200 W</text></g>
</svg></div></body></html>
